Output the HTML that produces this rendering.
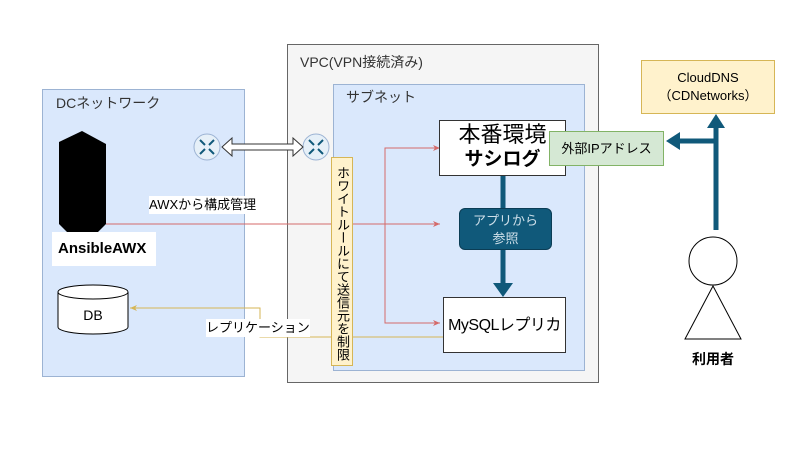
<!DOCTYPE html>
<html><head><meta charset="utf-8"><style>
body{margin:0;width:800px;height:450px;background:#fff;overflow:hidden;font-family:"Liberation Sans","Noto Sans CJK JP",sans-serif;}
.a{position:absolute;box-sizing:border-box;}
</style></head><body>
<div class="a" style="left:287px;top:44px;width:312px;height:339px;background:#f5f5f5;border:1px solid #666;"></div>
<div class="a" style="left:300px;top:52px;font-size:14px;color:#333;">VPC(VPN接続済み)</div>
<div class="a" style="left:42px;top:89px;width:203px;height:288px;background:#dae8fc;border:1px solid #9cb3d3;"></div>
<div class="a" style="left:56px;top:93px;font-size:14px;color:#333;">DCネットワーク</div>
<div class="a" style="left:333px;top:84px;width:252px;height:287px;background:#dae8fc;border:1px solid #9cb3d3;"></div>
<div class="a" style="left:346px;top:87px;font-size:14px;color:#333;">サブネット</div>

<svg class="a" style="left:0;top:0" width="800" height="450">
<defs>
<marker id="r" markerWidth="8" markerHeight="8" refX="7" refY="4" orient="auto" markerUnits="userSpaceOnUse"><path d="M0,1 L7,4 L0,7 L2,4z" fill="#d46a6a"/></marker>
<marker id="y" markerWidth="8" markerHeight="8" refX="7" refY="4" orient="auto" markerUnits="userSpaceOnUse"><path d="M0,1 L7,4 L0,7 L2,4z" fill="#d6b656"/></marker>
</defs>
<g fill="#e6f0f8" stroke="#9cb3d3"><circle cx="207" cy="147" r="13"/><circle cx="316" cy="147" r="13"/></g>
<g stroke="#10597a" stroke-width="2"><path d="M200,140l5,5M214,140l-5,5M200,154l5,-5M214,154l-5,-5M309,140l5,5M323,140l-5,5M309,154l5,-5M323,154l-5,-5"/></g>
<path d="M222,147 L232,138 L232,144 L293,144 L293,138 L303,147 L293,156 L293,150 L232,150 L232,156z" fill="#fff" stroke="#333"/>
<path d="M59,142 L82,131 L106,144 L106,224 L98,232 L67,232 L59,224z" fill="#000"/>
<g stroke="#d46a6a" fill="none" stroke-width="1">
<path d="M106,224 L440,224" marker-end="url(#r)"/>
<path d="M440,148 L385,148 L385,323 L440,323" marker-end="url(#r)"/>
<path d="M385,148 L440,148" marker-end="url(#r)"/>
</g>
<path d="M443,337 L260,337 L260,308 L130,308" fill="none" stroke="#d6b656" marker-end="url(#y)"/>
<path d="M58,292 L58,327 A35,7 0 0 0 128,327 L128,292" fill="#fff" stroke="#000"/>
<ellipse cx="93" cy="292" rx="35" ry="7" fill="#fff" stroke="#000"/>
<text x="93" y="320" font-size="14" text-anchor="middle" font-family="Liberation Sans">DB</text>
<g stroke="#10597a" stroke-width="5" fill="none"><path d="M503,175 L503,285"/><path d="M716,230 L716,125"/><path d="M716,141 L678,141"/></g>
<path d="M493,283 L513,283 L503,297z" fill="#10597a"/>
<path d="M707,128 L725,128 L716,114z" fill="#10597a"/>
<path d="M680,132 L680,150 L666,141z" fill="#10597a"/>
<circle cx="713" cy="261" r="24" fill="#fff" stroke="#000"/>
<path d="M713,286 L741,339 L685,339z" fill="#fff" stroke="#000"/>
</svg>

<div class="a" style="left:52px;top:232px;width:104px;height:34px;background:#fff;font-weight:bold;font-size:15px;line-height:34px;padding-left:6px;">AnsibleAWX</div>
<div class="a" style="left:149px;top:196px;background:#fff;font-size:13px;line-height:18px;">AWXから構成管理</div>
<div class="a" style="left:206px;top:319px;background:#fff;font-size:13px;line-height:18px;">レプリケーション</div>
<div class="a" style="left:331px;top:157px;width:22px;height:209px;background:#fff2cc;border:1px solid #d6b656;font-size:13px;line-height:20px;writing-mode:vertical-rl;text-align:center;padding-top:3px;">ホワイトルールにて送信元を制限</div>
<div class="a" style="left:439px;top:120px;width:127px;height:56px;background:#fff;border:1px solid #333;text-align:center;">
<div style="font-size:22px;line-height:28px;">本番環境</div><div style="font-size:19px;font-weight:bold;line-height:22px;">サシログ</div></div>
<div class="a" style="left:459px;top:208px;width:93px;height:42px;background:#10597a;border:1px solid #0b3d55;border-radius:6px;color:#cfe0ea;font-size:13px;text-align:center;line-height:18px;padding-top:3px;">アプリから<br>参照</div>
<div class="a" style="left:443px;top:297px;width:123px;height:56px;background:#fff;border:1px solid #333;font-size:16px;line-height:56px;text-align:center;white-space:nowrap;letter-spacing:-0.5px;">MySQLレプリカ</div>
<div class="a" style="left:549px;top:131px;width:115px;height:35px;background:#d5e8d4;border:1px solid #82b366;font-size:13px;line-height:33px;text-align:center;">外部IPアドレス</div>
<div class="a" style="left:641px;top:60px;width:134px;height:54px;background:#fff2cc;border:1px solid #d6b656;font-size:13px;line-height:18px;text-align:center;padding-top:8px;">CloudDNS<br>（CDNetworks）</div>
<div class="a" style="left:683px;top:349px;width:60px;text-align:center;font-size:14px;font-weight:bold;">利用者</div>
</body></html>
